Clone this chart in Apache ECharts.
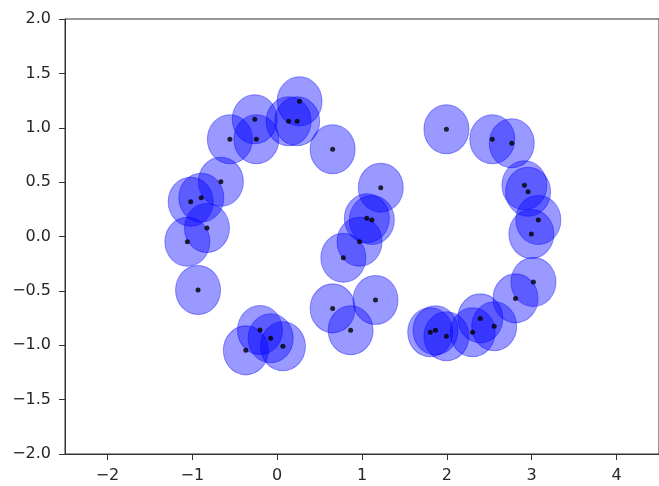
<!DOCTYPE html>
<html>
<head>
<meta charset="utf-8">
<script src="https://cdn.jsdelivr.net/npm/echarts@6/dist/echarts.min.js"></script>
<style>
  html, body { margin: 0; padding: 0; background: #ffffff; }
  #chart { width: 659px; height: 486px; }
</style>
</head>
<body>
<div id="chart"></div>
<script>
// Two interleaving half-moons: sample coordinates
const xValues = [
  0.264, 0.135, 0.236, -0.264, -0.245, -0.557, -0.663, -0.894, -1.019, -0.827,
  -1.058, -0.932, 0.654, -0.202, -0.076, 0.068, -0.369,
  1.221, 1.057, 1.116, 0.971, 0.780, 0.654, 1.159, 0.866,
  1.995, 2.535, 2.765, 2.914, 2.957, 3.078, 2.996, 3.020, 2.809, 2.558,
  2.394, 2.304, 1.995, 1.866, 1.804
];
const yValues = [
  1.243, 1.059, 1.059, 1.078, 0.894, 0.894, 0.504, 0.357, 0.320, 0.078,
  -0.048, -0.492, 0.802, -0.860, -0.936, -1.010, -1.047,
  0.449, 0.167, 0.152, -0.048, -0.195, -0.661, -0.584, -0.863,
  0.986, 0.894, 0.857, 0.471, 0.412, 0.152, 0.023, -0.418, -0.569, -0.826,
  -0.753, -0.881, -0.918, -0.863, -0.881
];
const xTicks = [-2, -1, 0, 1, 2, 3, 4];

const points = xValues.map((x, i) => [x, yValues[i]]);

const chart = echarts.init(document.getElementById('chart'), null, { renderer: 'canvas' });
chart.setOption({
  animation: false,
  backgroundColor: '#ffffff',
  grid: {
    left: 65, top: 19, width: 597, bottom: 32,
    show: true, borderColor: '#333', borderWidth: 1, backgroundColor: 'transparent'
  },
  xAxis: {
    type: 'value', min: -2.5, max: 4.5,
    splitLine: { show: false },
    axisLine: { show: true, onZero: false, lineStyle: { color: '#333', width: 1 } },
    axisTick: { show: true, inside: false, length: 6, customValues: xTicks,
                lineStyle: { color: '#333', width: 1 } },
    axisLabel: { customValues: xTicks, margin: 14, color: '#262626',
                 fontFamily: 'DejaVu Sans', fontSize: 16,
                 formatter: v => String(v).replace('-', '\u2212') }
  },
  yAxis: {
    type: 'value', min: -2, max: 2, interval: 0.5,
    splitLine: { show: false },
    axisLine: { show: true, onZero: false, lineStyle: { color: '#333', width: 1 } },
    axisTick: { show: true, inside: false, length: 6, lineStyle: { color: '#333', width: 1 } },
    axisLabel: { margin: 14, color: '#262626', fontFamily: 'DejaVu Sans', fontSize: 16,
                 formatter: v => v.toFixed(1).replace('-', '\u2212') }
  },
  series: [
    {
      name: 'halo',
      type: 'scatter',
      data: points,
      symbol: 'circle',
      symbolSize: [45, 49],
      itemStyle: { color: 'rgba(0,0,255,0.5)', borderColor: 'rgba(0,0,255,0.5)', borderWidth: 1 },
      emphasis: { disabled: true },
      z: 2
    },
    {
      name: 'points',
      type: 'scatter',
      data: points,
      symbol: 'circle',
      symbolSize: 5,
      itemStyle: { color: '#000000' },
      emphasis: { disabled: true },
      z: 3
    }
  ]
});
</script>
</body>
</html>
